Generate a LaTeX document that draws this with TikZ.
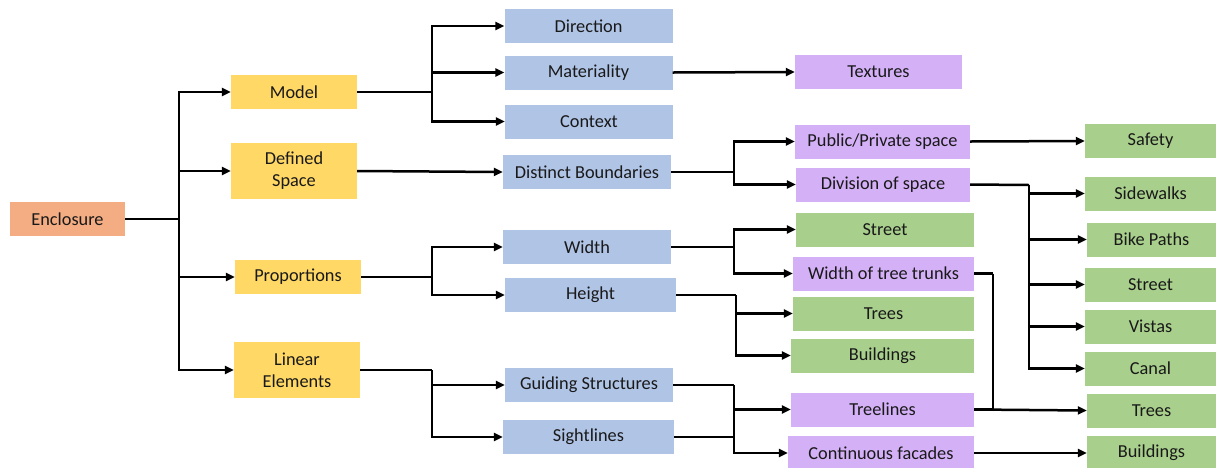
\documentclass[tikz,border=0pt]{standalone}
\usepackage{fontspec}
\setmainfont{Carlito}
\usetikzlibrary{arrows.meta}
\definecolor{cOrange}{HTML}{F4AC82}
\definecolor{cYellow}{HTML}{FFD866}
\definecolor{cBlue}{HTML}{B0C4E6}
\definecolor{cPurple}{HTML}{D4B0F6}
\definecolor{cGreen}{HTML}{A8CF8C}
\begin{document}
\begin{tikzpicture}[x=1pt,y=-1pt,
  box/.style={rectangle, inner sep=0pt, align=center, text=black!90,
    font=\fontsize{18.3}{22}\selectfont},
  rootbox/.style={box, fill=cOrange, minimum width=115, minimum height=34},
  lvlone/.style={box, fill=cYellow, minimum width=126, minimum height=34},
  lvltwo/.style={box, fill=cBlue, minimum width=168, minimum height=34},
  purplebox/.style={box, fill=cPurple, minimum height=34},
  greenbox/.style={box, fill=cGreen, minimum height=34},
  link/.style={line width=2.5pt, black},
  arr/.style={link, -{Triangle[length=9pt,width=8pt]}}]
\useasboundingbox (0,0) rectangle (1216,467);

% root and first level
\node[rootbox] (enc) at (67.5,219) {Enclosure};
\node[lvlone] (model) at (294,92) {Model};
\node[lvlone, minimum height=56] (defined) at (294,171) {Defined\\Space};
\node[lvlone] (prop) at (298,277) {Proportions};
\node[lvlone, minimum height=56] (linear) at (297,370) {Linear\\Elements};

% second level
\node[lvltwo] (dir) at (588.5,26) {Direction};
\node[lvltwo] (mat) at (588.5,72.5) {Materiality};
\node[lvltwo] (ctx) at (589,121.5) {Context};
\node[lvltwo] (bound) at (587,172) {Distinct Boundaries};
\node[lvltwo] (width) at (587,247) {Width};
\node[lvltwo, minimum width=171] (height) at (590.5,295) {Height};
\node[lvltwo] (guide) at (589,385) {Guiding Structures};
\node[lvltwo, minimum width=171] (sight) at (588.5,437) {Sightlines};

% third level
\node[purplebox, minimum width=167] (tex) at (878.5,72) {Textures};
\node[purplebox, minimum width=175] (pub) at (882.5,141.5) {Public/Private space};
\node[purplebox, minimum width=174] (div) at (883,184.5) {Division of space};
\node[greenbox, minimum width=178] (street) at (885,229.5) {Street};
\node[purplebox, minimum width=181] (trunks) at (883.5,273.5) {Width of tree trunks};
\node[greenbox, minimum width=181] (trees) at (883.5,313.5) {Trees};
\node[greenbox, minimum width=183] (bldg) at (882.5,355.5) {Buildings};
\node[purplebox, minimum width=183] (treel) at (882.5,409.5) {Treelines};
\node[purplebox, minimum width=186] (facade) at (881,453) {Continuous facades};

% fourth level
\node[greenbox, minimum width=131] (safety) at (1150.5,141) {Safety};
\node[greenbox, minimum width=131] (side) at (1150.5,193.5) {Sidewalks};
\node[greenbox, minimum width=129] (bike) at (1151.5,239.5) {Bike Paths};
\node[greenbox, minimum width=131] (street2) at (1150.5,284.5) {Street};
\node[greenbox, minimum width=131] (vista) at (1150.5,326.5) {Vistas};
\node[greenbox, minimum width=131] (canal) at (1150.5,368.5) {Canal};
\node[greenbox, minimum width=129] (trees2) at (1151.5,410.5) {Trees};
\node[greenbox, minimum width=129] (bldg2) at (1151.5,453) {Buildings};

% junction points of the branching connectors
\coordinate (jroot) at (179,219);
\coordinate (jmodel) at (432,92);
\coordinate (jprop) at (432,277);
\coordinate (jlin) at (432,370);
\coordinate (jbound) at (734,172);
\coordinate (jwidth) at (734,247);
\coordinate (jheight) at (736,295);
\coordinate (jguide) at (734,385);
\coordinate (jsight) at (734,437);
\coordinate (jdiv) at (1029,185);
\coordinate (jtrunk) at (993,273.5);

% root to first level
\draw[link] (enc.east) -- (jroot);
\foreach \n in {model,defined,prop,linear}
  \draw[arr] (jroot) |- (\n.west);

% first level to second level
\draw[link] (model.east) -- (jmodel);
\foreach \n in {dir,mat,ctx}
  \draw[arr] (jmodel) |- (\n.west);
\draw[arr] (defined.east) -- (bound.west);
\draw[link] (prop.east) -- (jprop);
\foreach \n in {width,height}
  \draw[arr] (jprop) |- (\n.west);
\draw[link] (linear.east) -- (jlin);
\foreach \n in {guide,sight}
  \draw[arr] (jlin) |- (\n.west);

% second level to third level
\draw[arr] (mat.east) -- (tex.west);
\draw[link] (bound.east) -- (jbound);
\foreach \n in {pub,div}
  \draw[arr] (jbound) |- (\n.west);
\draw[link] (width.east) -- (jwidth);
\foreach \n in {street,trunks}
  \draw[arr] (jwidth) |- (\n.west);
\draw[link] (height.east) -- (jheight);
\foreach \n in {trees,bldg}
  \draw[arr] (jheight) |- (\n.west);
\draw[link] (guide.east) -- (jguide);
\draw[link] (sight.east) -- (jsight);
\foreach \n in {treel,facade}
  \draw[arr] (jguide) |- (\n.west);

% third level to fourth level
\draw[arr] (pub.east) -- (safety.west);
\draw[link] (div.east) -- (jdiv);
\foreach \n in {side,bike,street2,vista,canal}
  \draw[arr] (jdiv) |- (\n.west);
\draw[link] (trunks.east) -- (jtrunk);
\draw[link] (jtrunk) |- (treel.east);
\draw[arr] (treel.east) -- (trees2.west);
\draw[arr] (facade.east) -- (bldg2.west);
\end{tikzpicture}
\end{document}
